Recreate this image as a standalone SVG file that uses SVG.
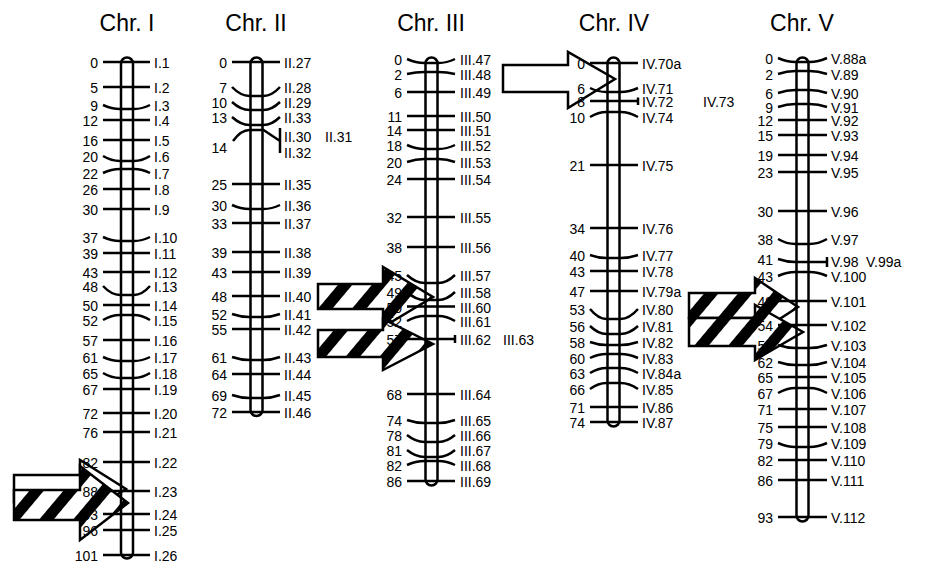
<svg xmlns="http://www.w3.org/2000/svg" width="928" height="563" viewBox="0 0 928 563">
<style>
.bar{fill:none;stroke:#000;stroke-width:2.5}
.t{fill:none;stroke:#000;stroke-width:2.5}
.ar{stroke:#000;stroke-width:2.5;stroke-linejoin:miter}
text{font-family:"Liberation Sans",Arial,sans-serif;font-size:14px;fill:#000}
.L{text-anchor:end}
.R{text-anchor:start}
.ttl{font-size:23px;text-anchor:middle}
</style>
<defs>
<pattern id="hatch" patternUnits="userSpaceOnUse" width="26" height="26" patternTransform="rotate(40)">
<rect width="26" height="26" fill="#fff"/>
<rect width="11" height="26" fill="#000"/>
</pattern>
</defs>
<rect width="928" height="563" fill="#fff"/>

<g id="qtl-arrows">
<polygon class="ar" fill="#fff" points="14,475 80,475 80,460 126,489 80,518 80,502 14,502"/>
<polygon class="ar" fill="url(#hatch)" points="14,490 80,490 80,466 128,503 80,540 80,520 14,520"/>
<polygon class="ar" fill="#fff" points="503,65 568,65 568,52 615,79 568,108 568,92 503,92"/>
<polygon class="ar" fill="url(#hatch)" points="318,284 383,284 383,267 433,297 383,327 383,309 318,309"/>
<polygon class="ar" fill="url(#hatch)" points="318,330 383,330 383,319 433,344 383,370 383,357 318,357"/>
<polygon class="ar" fill="url(#hatch)" points="689,293 755,293 755,278 798,307 755,335 755,318 689,318"/>
<polygon class="ar" fill="url(#hatch)" points="689,318 755,318 755,305 803,332 755,360 755,346 689,346"/>
</g>

<g id="chr-I">
<text class="ttl" x="127" y="31">Chr. I</text>
<rect class="bar" x="121" y="57.5" width="12" height="501" rx="6"/>
<path class="t" d="M103 62H150M103 87H150M103 105Q111.5 109 120 109H134Q142 109 150 105M103 120H150M103 140H150M103 156Q111.5 161 120 161H134Q142 161 150 156M103 173Q111.5 169 120 169H134Q142 169 150 173M103 189H150M103 209H150M103 237Q111.5 241 120 241H134Q142 241 150 237M103 253H150M103 272H150M103 286Q111.5 295 120 295H134Q142 295 150 286M103 305H150M103 320Q111.5 315 120 315H134Q142 315 150 320M103 340H150M103 357Q111.5 361 120 361H134Q142 361 150 357M103 373Q111.5 378 120 378H134Q142 378 150 373M103 389H150M103 413H150M103 432H150M103 462H150M103 491H150M103 514H150M103 530H150M103 555H150"/>
<g class="L">
<text x="98" y="68">0</text><text x="98" y="93">5</text><text x="98" y="111">9</text><text x="98" y="126">12</text><text x="98" y="146">16</text><text x="98" y="162">20</text><text x="98" y="179">22</text><text x="98" y="195">26</text><text x="98" y="215">30</text><text x="98" y="243">37</text><text x="98" y="259">39</text><text x="98" y="278">43</text><text x="98" y="292">48</text><text x="98" y="311">50</text><text x="98" y="326">52</text><text x="98" y="346">57</text><text x="98" y="363">61</text><text x="98" y="379">65</text><text x="98" y="395">67</text><text x="98" y="419">72</text><text x="98" y="438">76</text><text x="98" y="468">82</text><text x="98" y="497">88</text><text x="98" y="520">93</text><text x="98" y="536">96</text><text x="98" y="561">101</text>
</g>
<g class="R">
<text x="154" y="68">I.1</text><text x="154" y="93">I.2</text><text x="154" y="111">I.3</text><text x="154" y="126">I.4</text><text x="154" y="146">I.5</text><text x="154" y="162">I.6</text><text x="154" y="179">I.7</text><text x="154" y="195">I.8</text><text x="154" y="215">I.9</text><text x="154" y="243">I.10</text><text x="154" y="259">I.11</text><text x="154" y="278">I.12</text><text x="154" y="292">I.13</text><text x="154" y="311">I.14</text><text x="154" y="326">I.15</text><text x="154" y="346">I.16</text><text x="154" y="363">I.17</text><text x="154" y="379">I.18</text><text x="154" y="395">I.19</text><text x="154" y="419">I.20</text><text x="154" y="438">I.21</text><text x="154" y="468">I.22</text><text x="154" y="497">I.23</text><text x="154" y="520">I.24</text><text x="154" y="536">I.25</text><text x="154" y="561">I.26</text>
</g>
</g>

<g id="chr-II">
<text class="ttl" x="256" y="31">Chr. II</text>
<rect class="bar" x="250.5" y="57.5" width="12" height="358.5" rx="6"/>
<path class="t" d="M232 62H280M232 87Q240.75 96 249.5 96H263.5Q271.75 96 280 87M232 102Q240.75 110 249.5 110H263.5Q271.75 110 280 102M232 117Q240.75 125 249.5 125H263.5Q271.75 125 280 117M233 141Q241 130 249.5 130H263.5L280 141M280 128V153M232 184H280M232 205Q240.75 209 249.5 209H263.5Q271.75 209 280 205M232 223H280M232 252H280M232 272H280M232 296H280M232 314Q240.75 317 249.5 317H263.5Q271.75 317 280 314M232 329H280M232 357Q240.75 360 249.5 360H263.5Q271.75 360 280 357M232 374H280M232 395Q240.75 398 249.5 398H263.5Q271.75 398 280 395M232 412H280"/>
<g class="L">
<text x="227" y="68">0</text><text x="227" y="93">7</text><text x="227" y="108">10</text><text x="227" y="123">13</text><text x="227" y="153">14</text><text x="227" y="190">25</text><text x="227" y="211">30</text><text x="227" y="229">33</text><text x="227" y="258">39</text><text x="227" y="278">43</text><text x="227" y="302">48</text><text x="227" y="320">52</text><text x="227" y="335">55</text><text x="227" y="363">61</text><text x="227" y="380">64</text><text x="227" y="401">69</text><text x="227" y="418">72</text>
</g>
<g class="R">
<text x="284" y="68">II.27</text><text x="284" y="93">II.28</text><text x="284" y="108">II.29</text><text x="284" y="123">II.33</text><text x="284" y="142">II.30</text><text x="325" y="142">II.31</text><text x="284" y="158">II.32</text><text x="284" y="190">II.35</text><text x="284" y="211">II.36</text><text x="284" y="229">II.37</text><text x="284" y="258">II.38</text><text x="284" y="278">II.39</text><text x="284" y="302">II.40</text><text x="284" y="320">II.41</text><text x="284" y="335">II.42</text><text x="284" y="363">II.43</text><text x="284" y="380">II.44</text><text x="284" y="401">II.45</text><text x="284" y="418">II.46</text>
</g>
</g>

<g id="chr-III">
<text class="ttl" x="431" y="31">Chr. III</text>
<rect class="bar" x="425.5" y="57.5" width="12" height="428" rx="6"/>
<path class="t" d="M407 59Q415.75 63 424.5 63H438.5Q446.75 63 455 59M407 74Q415.75 72 424.5 72H438.5Q446.75 72 455 74M407 92H455M407 116H455M407 130H455M407 145Q415.75 149 424.5 149H438.5Q446.75 149 455 145M407 162Q415.75 159 424.5 159H438.5Q446.75 159 455 162M407 179H455M407 217H455M407 247H455M407 275Q415.75 283 424.5 283H438.5Q446.75 283 455 275M407 292Q415.75 300 424.5 300H438.5Q446.75 300 455 292M407 306.5H455M407 321Q415.75 316 424.5 316H438.5Q446.75 316 455 321M407 339H455M455 335V343M407 394H455M407 420Q415.75 423 424.5 423H438.5Q446.75 423 455 420M407 435Q415.75 442 424.5 442H438.5Q446.75 442 455 435M407 450Q415.75 457 424.5 457H438.5Q446.75 457 455 450M407 465Q415.75 461 424.5 461H438.5Q446.75 461 455 465M407 481H455"/>
<g class="L">
<text x="402" y="65">0</text><text x="402" y="80">2</text><text x="402" y="98">6</text><text x="402" y="122">11</text><text x="402" y="136">14</text><text x="402" y="151">18</text><text x="402" y="168">20</text><text x="402" y="185">24</text><text x="402" y="223">32</text><text x="402" y="253">38</text><text x="402" y="281">45</text><text x="402" y="298">49</text><text x="402" y="313">50</text><text x="402" y="327">52</text><text x="402" y="345">57</text><text x="402" y="400">68</text><text x="402" y="426">74</text><text x="402" y="441">78</text><text x="402" y="456">81</text><text x="402" y="471">82</text><text x="402" y="487">86</text>
</g>
<g class="R">
<text x="460" y="65">III.47</text><text x="460" y="80">III.48</text><text x="460" y="98">III.49</text><text x="460" y="122">III.50</text><text x="460" y="136">III.51</text><text x="460" y="151">III.52</text><text x="460" y="168">III.53</text><text x="460" y="185">III.54</text><text x="460" y="223">III.55</text><text x="460" y="253">III.56</text><text x="460" y="281">III.57</text><text x="460" y="298">III.58</text><text x="460" y="313">III.60</text><text x="460" y="327">III.61</text><text x="460" y="345">III.62</text><text x="503" y="345">III.63</text><text x="460" y="400">III.64</text><text x="460" y="426">III.65</text><text x="460" y="441">III.66</text><text x="460" y="456">III.67</text><text x="460" y="471">III.68</text><text x="460" y="487">III.69</text>
</g>
</g>

<g id="chr-IV">
<text class="ttl" x="614" y="31">Chr. IV</text>
<rect class="bar" x="607.5" y="57.5" width="12" height="369" rx="6"/>
<path class="t" d="M590 63H638M590 88Q598.25 92 606.5 92H620.5Q629.25 92 638 88M590 101H638M638 97.5V105M590 117Q598.25 112 606.5 112H620.5Q629.25 112 638 117M590 165H638M590 228H638M590 255Q598.25 258 606.5 258H620.5Q629.25 258 638 255M590 271H638M590 291H638M590 309Q598.25 319 606.5 319H620.5Q629.25 319 638 309M590 326Q598.25 334 606.5 334H620.5Q629.25 334 638 326M590 342Q598.25 345 606.5 345H620.5Q629.25 345 638 342M590 358Q598.25 354 606.5 354H620.5Q629.25 354 638 358M590 373Q598.25 368 606.5 368H620.5Q629.25 368 638 373M590 389Q598.25 383 606.5 383H620.5Q629.25 383 638 389M590 407H638M590 422H638"/>
<g class="L">
<text x="585" y="69">0</text><text x="585" y="94">6</text><text x="585" y="107">8</text><text x="585" y="123">10</text><text x="585" y="171">21</text><text x="585" y="234">34</text><text x="585" y="261">40</text><text x="585" y="277">43</text><text x="585" y="297">47</text><text x="585" y="315">53</text><text x="585" y="332">56</text><text x="585" y="348">58</text><text x="585" y="364">60</text><text x="585" y="379">63</text><text x="585" y="395">66</text><text x="585" y="413">71</text><text x="585" y="428">74</text>
</g>
<g class="R">
<text x="642" y="69">IV.70a</text><text x="642" y="94">IV.71</text><text x="642" y="107">IV.72</text><text x="703" y="107">IV.73</text><text x="642" y="123">IV.74</text><text x="642" y="171">IV.75</text><text x="642" y="234">IV.76</text><text x="642" y="261">IV.77</text><text x="642" y="277">IV.78</text><text x="642" y="297">IV.79a</text><text x="642" y="315">IV.80</text><text x="642" y="332">IV.81</text><text x="642" y="348">IV.82</text><text x="642" y="364">IV.83</text><text x="642" y="379">IV.84a</text><text x="642" y="395">IV.85</text><text x="642" y="413">IV.86</text><text x="642" y="428">IV.87</text>
</g>
</g>

<g id="chr-V">
<text class="ttl" x="802" y="31">Chr. V</text>
<rect class="bar" x="796.5" y="57.5" width="12" height="464" rx="6"/>
<path class="t" d="M778 58Q786.75 62 795.5 62H809.5Q818.25 62 827 58M778 74Q786.75 71 795.5 71H809.5Q818.25 71 827 74M778 93Q786.75 90 795.5 90H809.5Q818.25 90 827 93M778 107Q786.75 104 795.5 104H809.5Q818.25 104 827 107M778 120H827M778 135H827M778 155H827M778 172H827M778 211H827M778 239Q786.75 244 795.5 244H809.5Q818.25 244 827 239M778 259Q786.75 262 795.5 262H827M827 257V267M778 276Q786.75 272 795.5 272H809.5Q818.25 272 827 276M778 301H827M778 325H827M778 345Q786.75 348 795.5 348H809.5Q818.25 348 827 345M778 362Q786.75 365 795.5 365H809.5Q818.25 365 827 362M778 377H827M778 393Q786.75 388 795.5 388H809.5Q818.25 388 827 393M778 409H827M778 427H827M778 443Q786.75 447 795.5 447H809.5Q818.25 447 827 443M778 460H827M778 480H827M778 517H827"/>
<g class="L">
<text x="773" y="64">0</text><text x="773" y="80">2</text><text x="773" y="99">6</text><text x="773" y="113">9</text><text x="773" y="126">12</text><text x="773" y="141">15</text><text x="773" y="161">19</text><text x="773" y="178">23</text><text x="773" y="217">30</text><text x="773" y="245">38</text><text x="773" y="265">41</text><text x="773" y="282">43</text><text x="773" y="307">49</text><text x="773" y="331">54</text><text x="773" y="351">59</text><text x="773" y="368">62</text><text x="773" y="383">65</text><text x="773" y="399">67</text><text x="773" y="415">71</text><text x="773" y="433">75</text><text x="773" y="449">79</text><text x="773" y="466">82</text><text x="773" y="486">86</text><text x="773" y="523">93</text>
</g>
<g class="R">
<text x="831" y="64">V.88a</text><text x="831" y="80">V.89</text><text x="831" y="99">V.90</text><text x="831" y="113">V.91</text><text x="831" y="126">V.92</text><text x="831" y="141">V.93</text><text x="831" y="161">V.94</text><text x="831" y="178">V.95</text><text x="831" y="217">V.96</text><text x="831" y="245">V.97</text><text x="831" y="267">V.98</text><text x="866" y="267">V.99a</text><text x="831" y="282">V.100</text><text x="831" y="307">V.101</text><text x="831" y="331">V.102</text><text x="831" y="351">V.103</text><text x="831" y="368">V.104</text><text x="831" y="383">V.105</text><text x="831" y="399">V.106</text><text x="831" y="415">V.107</text><text x="831" y="433">V.108</text><text x="831" y="449">V.109</text><text x="831" y="466">V.110</text><text x="831" y="486">V.111</text><text x="831" y="523">V.112</text>
</g>
</g>
</svg>
